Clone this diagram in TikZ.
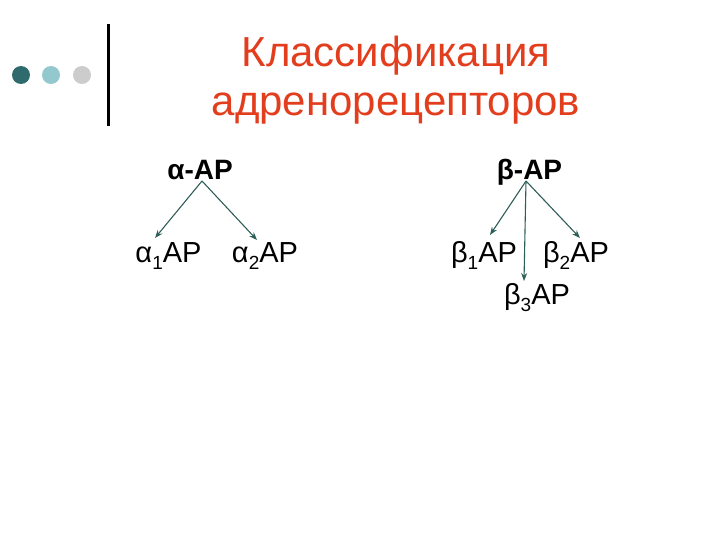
\documentclass[tikz,border=0pt]{standalone}
\usepackage{fontspec}
\setmainfont{Liberation Sans}
\usetikzlibrary{arrows.meta}
\definecolor{titlered}{HTML}{E23E1E}
\definecolor{dotA}{HTML}{2F6A6C}
\definecolor{dotB}{HTML}{92C8CE}
\definecolor{dotC}{HTML}{CCCCCC}
\definecolor{arr}{HTML}{2E5E58}
\newcommand{\sbs}[1]{\raisebox{-7pt}{\fontsize{19}{19}\selectfont #1}}
\tikzset{
  lbl/.style={font=\fontsize{29}{32}\selectfont, inner sep=0pt, anchor=base},
  head/.style={font=\bfseries\fontsize{28}{30}\selectfont, inner sep=0pt, anchor=base},
  ttl/.style={font=\fontsize{42}{48}\selectfont, text=titlered, inner sep=0pt, anchor=base},
  conn/.style={draw=arr, line width=1.1pt, -{Stealth[length=8pt,width=6pt]}},
  dot/.style={circle, minimum size=18pt, inner sep=0pt},
}
\begin{document}
\begin{tikzpicture}[x=1pt,y=-1pt]
\useasboundingbox (0,0) rectangle (720,540);
\node[dot, fill=dotA] (d1) at (21,75) {};
\node[dot, fill=dotB] (d2) at (51,75) {};
\node[dot, fill=dotC] (d3) at (82,75) {};
\draw[line width=3pt] (108,24) -- (108,126);
\node[ttl] (t1) at (396,67) {Классификация};
\node[ttl] (t2) at (396,116) {адренорецепторов};

\node[head] (a) at (200,180) {α-AP};
\node[lbl] (a1) at (168.5,262) {α\sbs{1}AP};
\node[lbl] (a2) at (265,262) {α\sbs{2}AP};
\coordinate (as) at (202,181);
\coordinate (ae1) at (155,238);
\coordinate (ae2) at (257,240);
\draw[conn] (as) -- (ae1);
\draw[conn] (as) -- (ae2);

\node[head] (b) at (529.5,180) {β-AP};
\node[lbl] (b1) at (484,262) {β\sbs{1}AP};
\node[lbl] (b2) at (576,262) {β\sbs{2}AP};
\node[lbl] (b3) at (537,304) {β\sbs{3}AP};
\coordinate (bs) at (526,181);
\coordinate (be1) at (490,235);
\coordinate (be2) at (580,238);
\coordinate (be3) at (524,281);
\draw[conn] (bs) -- (be1);
\draw[conn] (bs) -- (be2);
\draw[conn] (bs) -- (be3);
\end{tikzpicture}
\end{document}
